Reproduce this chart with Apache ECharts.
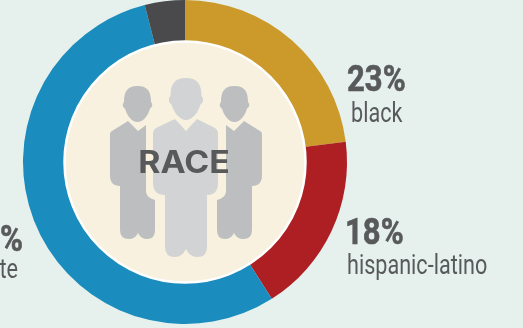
<!DOCTYPE html>
<html>
<head>
<meta charset="utf-8">
<style>
  html, body { margin: 0; padding: 0; background: #e6f0ed; }
  #chart { width: 523px; height: 328px; }
</style>
<script src="https://cdn.jsdelivr.net/npm/echarts@6/dist/echarts.min.js"></script>
</head>
<body>
<div id="chart"></div>
<script>
// Share of each race group, clockwise from twelve o'clock
const groups = ['black', 'hispanic-latino', 'white', 'other'];
const shares = [23, 18, 55, 4];
const sliceColors = ['#cb9a2a', '#ae1f24', '#1a8cbe', '#4a4a4d'];
const title = 'RACE';

// Silhouettes of the figures in the middle of the ring
const centreFigure =
  'M186 78C174 78 170.5 85 170.5 96C168 98 168.5 103 171.5 104.5C174 113 180 120 186 120C192 120 198 113 200.5 104.5C203.5 103 204 98 201.5 96C201.5 85 198 78 186 78Z' +
  'M175 119L186 131L197 119L215 128Q218 130 218 133L218 183Q218 195 207 195L207 247Q207 257 197 257Q190 257 186 249Q182 257 175 257Q165 257 165 247L165 195Q153 195 153 183L153 133Q153 130 156 128Z';
const sideFigure =
  'M137.5 86C127 86 124 92 124 102C122 104 122.5 107.5 125 108.5C127 116 132 122 137.5 122C143 122 148 116 150 108.5C152.5 107.5 153 104 151 102C151 92 148 86 137.5 86Z' +
  'M128 121L138 131L146 125L146 192Q147 198 155 200L155 230Q155 239 147 239Q141 239 138 233Q135 239 129 239Q120 239 120 230L120 186Q110 186 110 175L110 134Q110 132 112 131Z';

echarts.graphic.registerShape('centreFigure', echarts.graphic.extendPath(centreFigure));
echarts.graphic.registerShape('sideFigure', echarts.graphic.extendPath(sideFigure));

const labelFont = 'Roboto, sans-serif';
const labelColor = '#58595b';

// A percentage with the group name beneath it, both narrowed horizontally
function groupLabel(index, align, percentX, percentY, nameX, nameY) {
  return [
    { type: 'text', x: percentX, y: percentY, scaleX: 0.84, silent: true, style: {
      text: shares[index] + '%', fill: labelColor, textAlign: align,
      stroke: labelColor, lineWidth: 0.6,
      font: '700 37px ' + labelFont, textVerticalAlign: 'bottom' } },
    { type: 'text', x: nameX, y: nameY, scaleX: 0.8, silent: true, style: {
      text: groups[index], fill: labelColor, textAlign: align,
      font: '400 27px ' + labelFont, textVerticalAlign: 'bottom' } }
  ];
}

const chart = echarts.init(document.getElementById('chart'), null, { renderer: 'canvas' });

chart.setOption({
  animation: false,
  backgroundColor: '#e6f0ed',
  series: [{
    type: 'pie',
    center: [185, 162],
    radius: [118, 162],
    startAngle: 90,
    clockwise: true,
    silent: true,
    label: { show: false },
    labelLine: { show: false },
    data: groups.map((name, i) => ({
      name, value: shares[i], itemStyle: { color: sliceColors[i] }
    }))
  }],
  graphic: { elements: [
    { type: 'circle', shape: { cx: 185, cy: 162, r: 120.5 }, silent: true,
      style: { fill: '#f8f1df', stroke: '#ffffff', lineWidth: 2.5 }, z: 10 },
    { type: 'sideFigure', silent: true,
      style: { fill: '#bcbec0' }, z: 11 },
    { type: 'sideFigure', silent: true, originX: 186, scaleX: -1,
      style: { fill: '#bcbec0' }, z: 11 },
    { type: 'centreFigure', silent: true,
      style: { fill: '#d1d3d4' }, z: 12 },
    { type: 'text', x: 184, y: 164, scaleX: 1.09, silent: true, z: 13, style: {
      text: title, fill: labelColor, font: '700 31px Inter, sans-serif',
      textAlign: 'center', textVerticalAlign: 'middle' } },
    ...groupLabel(0, 'left', 347, 100, 351, 129),
    ...groupLabel(1, 'left', 345, 253, 347, 281),
    ...groupLabel(2, 'right', 23, 260, 18, 285)
  ] }
});
</script>
</body>
</html>
